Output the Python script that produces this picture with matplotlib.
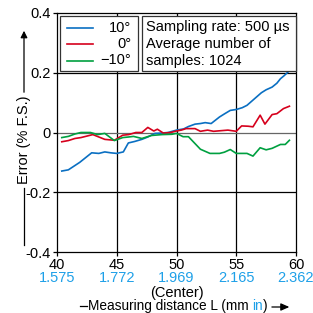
import numpy as np
import matplotlib
matplotlib.use('Agg')
import matplotlib.pyplot as plt
from matplotlib.lines import Line2D
from matplotlib.patches import FancyArrowPatch, Rectangle

plt.rcParams['font.family'] = ['Liberation Sans', 'DejaVu Sans']

# Data
x_blue = [40.4, 40.95, 41.9, 42.9, 43.5, 44.0, 44.5, 45.0, 45.55, 45.97, 46.5, 47.1, 47.6,
          48.2, 48.7, 49.3, 50.0, 50.6, 51.0, 51.55, 52.0, 52.4, 52.9, 53.6, 54.0, 54.5,
          55.0, 55.5, 55.9, 56.3, 56.7, 57.1, 57.5, 58.0, 58.4, 58.7, 59.0, 59.4]
y_blue = [-0.129, -0.125, -0.100, -0.068, -0.070, -0.065, -0.068, -0.070, -0.065, -0.035,
          -0.030, -0.023, -0.015, -0.003, -0.002, 0.000, 0.008, 0.012, 0.020, 0.028, 0.030,
          0.033, 0.030, 0.052, 0.062, 0.074, 0.077, 0.083, 0.091, 0.105, 0.119, 0.133,
          0.143, 0.152, 0.165, 0.180, 0.190, 0.205]

x_red = [40.4, 40.95, 41.5, 42.0, 42.5, 43.0, 43.5, 44.0, 44.8, 45.5, 46.0, 46.6, 47.1,
         47.6, 48.1, 48.4, 48.9, 49.5, 50.0, 50.4, 50.8, 51.55, 52.0, 52.6, 53.1, 53.7,
         54.3, 55.0, 55.45, 56.0, 56.4, 57.0, 57.4, 58.0, 58.4, 58.95, 59.45]
y_red = [-0.031, -0.027, -0.020, -0.017, -0.012, -0.007, -0.015, -0.023, -0.026, -0.009,
         -0.007, 0.000, 0.000, 0.017, 0.005, 0.011, -0.002, 0.000, 0.005, 0.008, 0.013,
         0.013, 0.004, 0.008, 0.004, 0.006, 0.008, 0.004, 0.022, 0.021, 0.019, 0.058,
         0.028, 0.060, 0.063, 0.080, 0.088]

x_green = [40.4, 40.95, 41.5, 42.0, 42.8, 43.4, 44.0, 44.8, 45.5, 46.0, 46.4, 47.1, 47.9,
           48.8, 49.6, 50.0, 50.55, 51.0, 51.5, 52.0, 52.8, 53.6, 54.0, 54.5, 55.0, 55.9,
           56.4, 57.0, 57.5, 58.0, 58.7, 59.1, 59.45]
y_green = [-0.017, -0.013, -0.005, 0.000, 0.000, -0.007, -0.003, -0.027, -0.017, -0.015,
           -0.013, -0.020, -0.010, -0.007, -0.006, -0.003, -0.014, -0.014, -0.035, -0.056,
           -0.070, -0.070, -0.066, -0.057, -0.070, -0.070, -0.079, -0.051, -0.058, -0.053,
           -0.040, -0.040, -0.026]

labels = ['10°', '0°', '\u221210°']
colors = ['#0a6fc2', '#d6001c', '#00a040']
x_ticks = [40, 45, 50, 55, 60]
x_inch = ['1.575', '1.772', '1.969', '2.165', '2.362']
y_ticks = [-0.4, -0.2, 0, 0.2, 0.4]
y_labels = ['-0.4', '-0.2', '0', '0.2', '0.4']
info_lines = ['Sampling rate: 500 µs', 'Average number of', 'samples: 1024']
light_blue = '#1ea0e8'

W = 313


def px(x, y):
    # figure fraction from pixel position measured from top-left
    return x / W, 1 - y / W


fig = plt.figure(figsize=(3.13, 3.13), dpi=100)
ax = fig.add_axes([57 / W, 1 - 252 / W, 239 / W, 239 / W])

for xv in [45, 50, 55]:
    ax.axvline(xv, color='black', lw=0.9, zorder=1)
for yv in [-0.2, 0.2]:
    ax.axhline(yv, color='black', lw=0.9, zorder=1)
ax.axhline(0, color='#666666', lw=0.9, zorder=1)

ax.plot(x_blue, y_blue, color=colors[0], lw=1.2, zorder=3)
ax.plot(x_red, y_red, color=colors[1], lw=1.2, zorder=3)
ax.plot(x_green, y_green, color=colors[2], lw=1.2, zorder=3)

ax.set_xlim(40, 60)
ax.set_ylim(-0.4, 0.4)
ax.set_xticks(x_ticks)
ax.set_xticklabels([])
ax.set_yticks(y_ticks)
ax.set_yticklabels(y_labels)
ax.tick_params(direction='out', length=3, width=0.9, labelsize=10.5, pad=1.5, colors='black')
for s in ax.spines.values():
    s.set_linewidth(0.9)
    s.set_color('black')

# x tick labels: mm in black, inch in blue
for xv, lab in zip(x_ticks, x_inch):
    xf = (57 + (xv - 40) / 20 * 239) / W
    fig.text(xf, 1 - 265 / W, str(xv), ha='center', va='center', fontsize=10.5)
    fig.text(xf, 1 - 278.5 / W, lab, ha='center', va='center', fontsize=10.5, color=light_blue)

fig.text(*px(176.5, 292.5), '(Center)', ha='center', va='center', fontsize=10.5)

# legend boxes (square corners)
b1 = Rectangle(px(60, 71), 78 / W, 55 / W, transform=fig.transFigure,
               facecolor='white', edgecolor='#333333', lw=0.9, zorder=5)
b2 = Rectangle(px(142, 71), 154 / W, 55 / W, transform=fig.transFigure,
               facecolor='white', edgecolor='#333333', lw=0.9, zorder=5)
fig.patches.extend([b1, b2])
row_y = [27.5, 44, 60.5]
for yy, lab, c in zip(row_y, labels, colors):
    fig.add_artist(Line2D([px(67, 0)[0], px(93, 0)[0]], [px(0, yy)[1]] * 2,
                          transform=fig.transFigure, color=c, lw=1.2, zorder=6))
    fig.text(*px(131, yy), lab, ha='right', va='center', fontsize=10.5, zorder=6)
for yy, line in zip(row_y, info_lines):
    fig.text(*px(145.5, yy), line, ha='left', va='center', fontsize=10.5, zorder=6)

# y label with line and arrow
fig.text(*px(24, 140), 'Error (% F.S.)', rotation=90, ha='center', va='center', fontsize=10.5)
fig.add_artist(Line2D([px(24, 0)[0]] * 2, [px(0, 188)[1], px(0, 245)[1]],
                      transform=fig.transFigure, color='black', lw=0.9))
fig.patches.append(FancyArrowPatch(px(24, 95), px(24, 28), transform=fig.transFigure,
                                   arrowstyle='-|>,head_length=4,head_width=2',
                                   color='black', lw=0.9))

# x label: line, text with blue "in", arrow
fig.add_artist(Line2D([px(80, 0)[0], px(87, 0)[0]], [px(0, 306)[1]] * 2,
                      transform=fig.transFigure, color='black', lw=0.9))
fig.canvas.draw()
r = fig.canvas.get_renderer()
t1 = fig.text(*px(87.5, 306), 'Measuring distance L (mm ', ha='left', va='center', fontsize=9.8)
x_next = t1.get_window_extent(r).x1
t2 = fig.text(x_next / W, 1 - 306 / W, 'in', ha='left', va='center', fontsize=9.8,
              color=light_blue)
x_next = t2.get_window_extent(r).x1
t3 = fig.text(x_next / W, 1 - 306 / W, ')', ha='left', va='center', fontsize=9.8)
x_end = t3.get_window_extent(r).x1
fig.patches.append(FancyArrowPatch((x_end + 2, 6), (x_end + 25, 6), transform=None,
                                   arrowstyle='-|>,head_length=5,head_width=2.2',
                                   color='black', lw=0.9))

fig.savefig('out.png', dpi=100)
